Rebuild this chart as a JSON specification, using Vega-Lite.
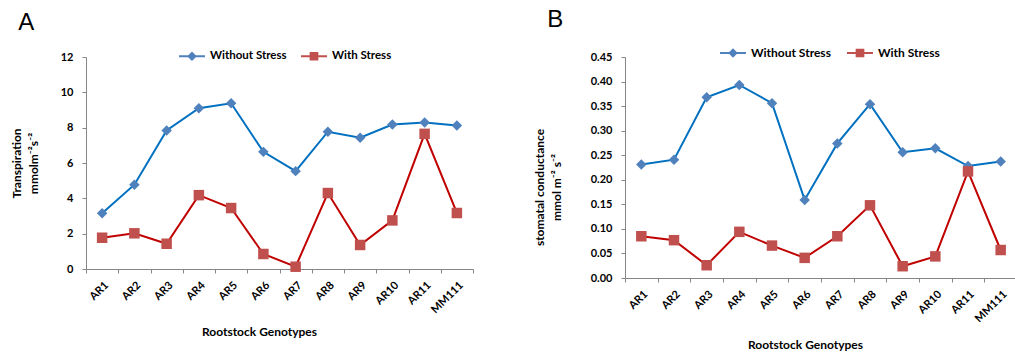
{
  "$schema": "https://vega.github.io/schema/vega-lite/v6.json",
  "background": "white",
  "padding": {"left": 10, "top": 8, "right": 0, "bottom": 0},
  "spacing": 59,
  "datasets": {
    "tr": [
      {"genotype": "AR1", "condition": "Without Stress", "value": 3.15},
      {"genotype": "AR2", "condition": "Without Stress", "value": 4.77},
      {"genotype": "AR3", "condition": "Without Stress", "value": 7.84},
      {"genotype": "AR4", "condition": "Without Stress", "value": 9.1},
      {"genotype": "AR5", "condition": "Without Stress", "value": 9.38},
      {"genotype": "AR6", "condition": "Without Stress", "value": 6.63},
      {"genotype": "AR7", "condition": "Without Stress", "value": 5.54},
      {"genotype": "AR8", "condition": "Without Stress", "value": 7.77},
      {"genotype": "AR9", "condition": "Without Stress", "value": 7.43},
      {"genotype": "AR10", "condition": "Without Stress", "value": 8.18},
      {"genotype": "AR11", "condition": "Without Stress", "value": 8.29},
      {"genotype": "MM111", "condition": "Without Stress", "value": 8.12},
      {"genotype": "AR1", "condition": "With Stress", "value": 1.77},
      {"genotype": "AR2", "condition": "With Stress", "value": 2.02},
      {"genotype": "AR3", "condition": "With Stress", "value": 1.43},
      {"genotype": "AR4", "condition": "With Stress", "value": 4.18},
      {"genotype": "AR5", "condition": "With Stress", "value": 3.45},
      {"genotype": "AR6", "condition": "With Stress", "value": 0.85},
      {"genotype": "AR7", "condition": "With Stress", "value": 0.13},
      {"genotype": "AR8", "condition": "With Stress", "value": 4.3},
      {"genotype": "AR9", "condition": "With Stress", "value": 1.36},
      {"genotype": "AR10", "condition": "With Stress", "value": 2.75},
      {"genotype": "AR11", "condition": "With Stress", "value": 7.65},
      {"genotype": "MM111", "condition": "With Stress", "value": 3.17}
    ],
    "sc": [
      {"genotype": "AR1", "condition": "Without Stress", "value": 0.231},
      {"genotype": "AR2", "condition": "Without Stress", "value": 0.241},
      {"genotype": "AR3", "condition": "Without Stress", "value": 0.368},
      {"genotype": "AR4", "condition": "Without Stress", "value": 0.393},
      {"genotype": "AR5", "condition": "Without Stress", "value": 0.356},
      {"genotype": "AR6", "condition": "Without Stress", "value": 0.159},
      {"genotype": "AR7", "condition": "Without Stress", "value": 0.274},
      {"genotype": "AR8", "condition": "Without Stress", "value": 0.354},
      {"genotype": "AR9", "condition": "Without Stress", "value": 0.256},
      {"genotype": "AR10", "condition": "Without Stress", "value": 0.264},
      {"genotype": "AR11", "condition": "Without Stress", "value": 0.228},
      {"genotype": "MM111", "condition": "Without Stress", "value": 0.237},
      {"genotype": "AR1", "condition": "With Stress", "value": 0.085},
      {"genotype": "AR2", "condition": "With Stress", "value": 0.077},
      {"genotype": "AR3", "condition": "With Stress", "value": 0.026},
      {"genotype": "AR4", "condition": "With Stress", "value": 0.094},
      {"genotype": "AR5", "condition": "With Stress", "value": 0.066},
      {"genotype": "AR6", "condition": "With Stress", "value": 0.041},
      {"genotype": "AR7", "condition": "With Stress", "value": 0.085},
      {"genotype": "AR8", "condition": "With Stress", "value": 0.148},
      {"genotype": "AR9", "condition": "With Stress", "value": 0.024},
      {"genotype": "AR10", "condition": "With Stress", "value": 0.044},
      {"genotype": "AR11", "condition": "With Stress", "value": 0.217},
      {"genotype": "MM111", "condition": "With Stress", "value": 0.057}
    ]
  },
  "config": {
    "font": "Lato",
    "view": {"stroke": null},
    "axis": {
      "domainColor": "#868686",
      "tickColor": "#868686",
      "labelColor": "#000000",
      "labelFont": "Lato",
      "labelFontWeight": "bold",
      "labelFontSize": 11,
      "titleFont": "Lato",
      "titleFontWeight": "bold",
      "titleFontSize": 12,
      "titleColor": "#000000",
      "titleLineHeight": 17,
      "grid": false,
      "tickSize": 4,
      "labelOverlap": false
    },
    "legend": {
      "labelFont": "Lato",
      "labelFontWeight": "bold",
      "labelFontSize": 11.5,
      "labelColor": "#000000",
      "symbolSize": 300,
      "labelOffset": 9,
      "columnPadding": 14,
      "symbolStrokeWidth": 0,
      "symbolOpacity": 1
    },
    "title": {
      "font": "Liberation Sans",
      "fontSize": 24,
      "fontWeight": "normal",
      "anchor": "start",
      "frame": "bounds",
      "color": "#000000"
    }
  },
  "hconcat": [
    {
      "width": 387,
      "height": 212,
      "title": {"text": "A", "offset": 12, "dx": 8},
      "data": {"name": "tr"},
      "encoding": {
        "x": {"field": "genotype", "type": "nominal", "sort": null, "scale": {"type": "band", "paddingInner": 0, "paddingOuter": 0},
              "axis": {"title": "Rootstock Genotypes", "labelAngle": -45, "tickBand": "extent", "labelPadding": 6, "titlePadding": 11, "titleX": 173}},
        "y": {"field": "value", "type": "quantitative", "scale": {"domain": [0, 12], "nice": false},
              "axis": {"title": ["Transpiration", "mmolm⁻²s⁻²"], "values": [0, 2, 4, 6, 8, 10, 12], "labelOverlap": false, "labelPadding": 9, "titlePadding": 20}}
      },
      "layer": [
        {
          "mark": {"type": "line", "strokeWidth": 2},
          "encoding": {
            "color": {"field": "condition", "type": "nominal", "scale": {"domain": ["Without Stress", "With Stress"], "range": ["#0070C0", "#C00000"]}, "legend": null}
          }
        },
        {
          "mark": {"type": "point", "filled": true, "opacity": 1, "size": 110},
          "encoding": {
            "color": {"field": "condition", "type": "nominal", "scale": {"domain": ["Without Stress", "With Stress"], "range": ["#4F81BD", "#C0504D"]}, "legend": null},
            "shape": {"field": "condition", "type": "nominal", "scale": {"domain": ["Without Stress", "With Stress"], "range": ["diamond", "square"]}, "legend": null}
          }
        },
        {
          "transform": [{"filter": "false"}],
          "mark": {"type": "point", "filled": true, "opacity": 1},
          "encoding": {
            "color": {"field": "condition", "type": "nominal", "scale": {"domain": ["Without Stress", "With Stress"], "range": ["#4F81BD", "#C0504D"]},
                      "legend": {"title": null, "orient": "none", "direction": "horizontal", "legendX": 97, "legendY": -10}},
            "shape": {"field": "condition", "type": "nominal", "scale": {"domain": ["Without Stress", "With Stress"], "range": ["M-1.5,-0.12H1.5V0.12H-1.5Z M0,-0.55L0.55,0L0,0.55L-0.55,0Z", "M-1.5,-0.12H1.5V0.12H-1.5Z M-0.5,-0.5H0.5V0.5H-0.5Z"]},
                      "legend": {"title": null, "orient": "none", "direction": "horizontal", "legendX": 97, "legendY": -10}}
          }
        }
      ],
      "resolve": {"scale": {"color": "independent", "shape": "independent"}}
    },
    {
      "width": 392,
      "height": 221,
      "title": {"text": "B", "offset": 12, "dx": 14},
      "data": {"name": "sc"},
      "encoding": {
        "x": {"field": "genotype", "type": "nominal", "sort": null, "scale": {"type": "band", "paddingInner": 0, "paddingOuter": 0},
              "axis": {"title": "Rootstock Genotypes", "labelAngle": -45, "tickBand": "extent", "labelPadding": 6, "titlePadding": 15, "titleX": 180}},
        "y": {"field": "value", "type": "quantitative", "scale": {"domain": [0, 0.45], "nice": false},
              "axis": {"title": ["stomatal conductance", "mmol m⁻² s⁻²"], "values": [0, 0.05, 0.1, 0.15, 0.2, 0.25, 0.3, 0.35, 0.4, 0.45], "format": ".2f", "labelOverlap": false, "labelPadding": 9, "titlePadding": 27, "titleY": 130}}
      },
      "layer": [
        {
          "mark": {"type": "line", "strokeWidth": 2},
          "encoding": {
            "color": {"field": "condition", "type": "nominal", "scale": {"domain": ["Without Stress", "With Stress"], "range": ["#0070C0", "#C00000"]}, "legend": null}
          }
        },
        {
          "mark": {"type": "point", "filled": true, "opacity": 1, "size": 110},
          "encoding": {
            "color": {"field": "condition", "type": "nominal", "scale": {"domain": ["Without Stress", "With Stress"], "range": ["#4F81BD", "#C0504D"]}, "legend": null},
            "shape": {"field": "condition", "type": "nominal", "scale": {"domain": ["Without Stress", "With Stress"], "range": ["diamond", "square"]}, "legend": null}
          }
        },
        {
          "transform": [{"filter": "false"}],
          "mark": {"type": "point", "filled": true, "opacity": 1},
          "encoding": {
            "color": {"field": "condition", "type": "nominal", "scale": {"domain": ["Without Stress", "With Stress"], "range": ["#4F81BD", "#C0504D"]},
                      "legend": {"title": null, "orient": "none", "direction": "horizontal", "legendX": 99, "legendY": -13, "labelFontSize": 12, "columnPadding": 16}},
            "shape": {"field": "condition", "type": "nominal", "scale": {"domain": ["Without Stress", "With Stress"], "range": ["M-1.5,-0.12H1.5V0.12H-1.5Z M0,-0.55L0.55,0L0,0.55L-0.55,0Z", "M-1.5,-0.12H1.5V0.12H-1.5Z M-0.5,-0.5H0.5V0.5H-0.5Z"]},
                      "legend": {"title": null, "orient": "none", "direction": "horizontal", "legendX": 99, "legendY": -13, "labelFontSize": 12, "columnPadding": 16}}
          }
        }
      ],
      "resolve": {"scale": {"color": "independent", "shape": "independent"}}
    }
  ],
  "resolve": {"scale": {"y": "independent", "x": "independent"}, "legend": {"color": "independent", "shape": "independent"}}
}
